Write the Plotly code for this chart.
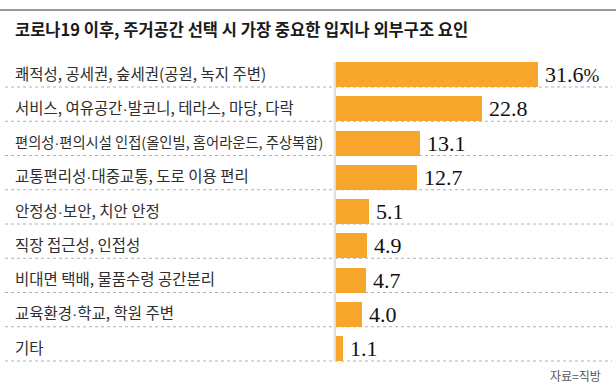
import plotly.graph_objects as go

title = "코로나19 이후, 주거공간 선택 시 가장 중요한 입지나 외부구조 요인"
categories = [
    "쾌적성, 공세권, 숲세권(공원, 녹지 주변)",
    "서비스, 여유공간·발코니, 테라스, 마당, 다락",
    "편의성·편의시설 인접(올인빌, 홈어라운드, 주상복합)",
    "교통편리성·대중교통, 도로 이용 편리",
    "안정성·보안, 치안 안정",
    "직장 접근성, 인접성",
    "비대면 택배, 물품수령 공간분리",
    "교육환경·학교, 학원 주변",
    "기타",
]
values = [31.6, 22.8, 13.1, 12.7, 5.1, 4.9, 4.7, 4.0, 1.1]
value_labels = ["31.6<span style='font-size:19px'>%</span>", "22.8", "13.1", "12.7",
                "5.1", "4.9", "4.7", "4.0", "1.1"]
source = "자료=직방"

W, H = 616, 385
KR = "Noto Sans CJK KR"
SERIF = "Liberation Serif"
LABEL_SIZE = 15.5
LABEL_SIZE_CONDENSED = 14.3  # the long third label is set condensed in the original

idx = list(range(len(categories)))
pitch = 34.25
c0 = 74.5
y_top = -c0 / pitch
y_bot = (H - c0) / pitch
half = 12.5 / pitch

x0px, x1px = 336, 612
pxu = 6.39
xmax = (x1px - x0px) / pxu


def narrow_dot(s):
    return s.replace("·", "<span style='font-family:Liberation Sans'>·</span>")


fig = go.Figure()
fig.add_trace(go.Bar(
    x=values, y=idx, orientation="h",
    marker=dict(color="#F6A62B", line=dict(width=0)),
    width=2 * half, hoverinfo="skip",
))

shapes = []
shapes.append(dict(type="line", xref="paper", yref="paper", x0=0, x1=1,
                   y0=1 - 10 / H, y1=1 - 10 / H, line=dict(color="#9a9a9a", width=2)))
for i in idx:
    shapes.append(dict(type="line", xref="paper", yref="y", x0=5 / W, x1=612 / W,
                       y0=i + half, y1=i + half, line=dict(color="#b0b0b0", width=1, dash="dot"),
                       layer="below"))
for k, col in enumerate(["#f2f2f2", "#e6e6e6", "#dcdcdc"]):
    shapes.append(dict(type="rect", xref="paper", yref="y", x0=(333 + k) / W, x1=(334 + k) / W,
                       y0=-half, y1=len(idx) - 1 + half, fillcolor=col,
                       line=dict(width=0), layer="below"))

annotations = []
annotations.append(dict(text=title, xref="paper", yref="paper", x=13 / W, y=1 - 29 / H,
                        xanchor="left", yanchor="middle", showarrow=False,
                        font=dict(family=KR, size=16.5, color="#1a1a1a", weight="bold")))
for i, (c, v, t) in enumerate(zip(categories, values, value_labels)):
    size = LABEL_SIZE_CONDENSED if len(c) > 26 else LABEL_SIZE
    annotations.append(dict(text=narrow_dot(c), xref="paper", yref="y", x=13 / W, y=i,
                            xanchor="left", yanchor="middle", showarrow=False, yshift=2,
                            font=dict(family=KR, size=size, color="#2e2e2e")))
    annotations.append(dict(text=t, xref="x", yref="y", x=v, y=i,
                            xanchor="left", yanchor="middle", showarrow=False, xshift=5,
                            font=dict(family=SERIF, size=22, color="#111")))
annotations.append(dict(text=source, xref="paper", yref="paper", x=603 / W, y=1 - 375 / H,
                        xanchor="right", yanchor="middle", showarrow=False,
                        font=dict(family=KR, size=12, color="#555")))

fig.update_layout(
    width=W, height=H, margin=dict(l=0, r=0, t=0, b=0),
    paper_bgcolor="white", plot_bgcolor="white", showlegend=False,
    xaxis=dict(domain=[x0px / W, x1px / W], range=[0, xmax], visible=False, fixedrange=True),
    yaxis=dict(domain=[0, 1], range=[y_bot, y_top], visible=False, fixedrange=True),
    shapes=shapes, annotations=annotations, bargap=0,
)
fig.write_html("out.html", config={"displayModeBar": False},
               post_script="document.body.style.margin='0';document.body.style.overflow='hidden';")
